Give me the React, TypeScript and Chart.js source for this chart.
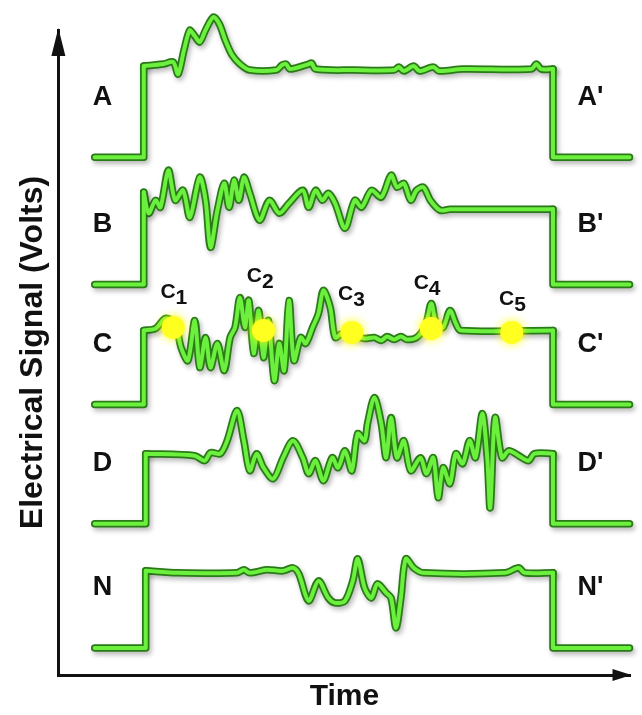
import React, { useEffect, useRef } from "react";
import { Chart, registerables } from "chart.js";

Chart.register(...registerables);

// ---- Data (time in ms, amplitude in mV above each channel's baseline) ----
const channelNames = ["A", "B", "C", "D", "N"];
const channelOffsets = [517, 390, 270, 151, 27];

const aTime = [37, 87, 87, 107, 117, 122, 128, 134, 139, 144, 150, 158, 164, 170, 177, 185, 195, 222, 228, 232, 236, 255, 258, 262, 302, 342, 347, 352, 362, 368, 382, 388, 412, 482, 487, 492, 504, 504, 582];
const aAmp = [0, 0, 91, 93, 95, 83, 107, 127, 121, 115, 127, 140, 133, 117, 102, 93, 87, 87, 92, 93, 88, 93, 94, 88, 87, 87, 90, 86, 91, 86, 90, 86, 88, 88, 93, 88, 88, 0, 0];

const bTime = [37, 87, 87, 92, 99, 104, 112, 119, 127, 134, 144, 150, 155, 162, 169, 174, 179, 184, 189, 195, 205, 215, 225, 235, 249, 255, 262, 269, 275, 282, 292, 302, 309, 319, 329, 339, 345, 352, 359, 365, 372, 379, 389, 399, 504, 504, 582];
const bAmp = [0, 0, 92, 71, 84, 77, 114, 84, 94, 67, 107, 84, 37, 74, 101, 77, 104, 84, 107, 91, 64, 84, 71, 81, 94, 77, 94, 84, 91, 81, 56, 84, 77, 94, 87, 109, 97, 101, 84, 94, 97, 84, 74, 75, 75, 0, 0];

const cTime = [37, 87, 87, 99, 109, 119, 125, 132, 139, 144, 150, 155, 162, 169, 175, 180, 185, 190, 194, 199, 204, 209, 214, 220, 225, 230, 235, 240, 247, 252, 259, 265, 270, 277, 282, 289, 299, 312, 322, 329, 335, 342, 349, 355, 365, 374, 380, 385, 392, 399, 405, 410, 504, 504, 582];
const cAmp = [0, 0, 74, 76, 86, 81, 57, 44, 84, 37, 67, 37, 61, 34, 67, 77, 107, 77, 104, 51, 94, 47, 84, 24, 61, 34, 104, 44, 67, 61, 77, 91, 114, 97, 67, 71, 69, 66, 67, 64, 68, 65, 68, 65, 67, 79, 101, 81, 77, 94, 81, 74, 74, 0, 0];

const dTime = [37, 89, 89, 139, 149, 155, 165, 172, 182, 189, 195, 202, 209, 219, 229, 239, 249, 255, 262, 270, 279, 285, 292, 299, 305, 312, 315, 322, 329, 334, 339, 345, 352, 359, 369, 375, 382, 387, 392, 399, 405, 412, 419, 425, 432, 437, 440, 445, 452, 459, 469, 479, 485, 504, 504, 582];
const dAmp = [0, 0, 70, 68, 63, 71, 70, 83, 113, 83, 53, 70, 56, 45, 66, 83, 66, 50, 63, 43, 66, 56, 73, 53, 90, 83, 100, 126, 100, 66, 106, 66, 83, 53, 66, 50, 66, 26, 56, 40, 70, 60, 83, 66, 110, 66, 16, 106, 66, 73, 68, 63, 70, 70, 0, 0];

const nTime = [37, 89, 89, 122, 182, 189, 195, 212, 229, 239, 245, 255, 265, 275, 282, 292, 300, 305, 312, 319, 325, 334, 339, 344, 349, 354, 362, 372, 455, 469, 475, 504, 504, 582];
const nAmp = [0, 0, 77, 75, 75, 78, 75, 78, 77, 80, 74, 47, 67, 50, 45, 47, 67, 89, 60, 50, 64, 55, 50, 20, 50, 89, 80, 75, 75, 80, 75, 75, 0, 0];

// Marked points on channel C
const cPointNames = ["1", "2", "3", "4", "5"];
const cPointTime = [117, 209, 299, 380, 462];
const cPointAmp = [77, 74, 72, 76, 72];
const cLabelTime = [104, 192, 285, 362, 449];
const cLabelAmp = [112, 128, 110, 121, 105];

// Channel label anchors
const labelLeftTime = 45;
const labelRightTime = 529;
const labelAmp = 60;

const FONT = "'Liberation Sans', Arial, Helvetica, sans-serif";
const OUTLINE = "#2a7a18";
const CORE = "#6cf03e";
const INK = "#111111";

const series = [
  { time: aTime, amp: aAmp },
  { time: bTime, amp: bAmp },
  { time: cTime, amp: cAmp },
  { time: dTime, amp: dAmp },
  { time: nTime, amp: nAmp },
];

function buildDatasets() {
  const ds: any[] = [];
  series.forEach((s, i) => {
    const pts = s.time.map((t, k) => ({ x: t, y: channelOffsets[i] + s.amp[k] }));
    const n = pts.length;
    // sharp step edges (rise and fall) and the smooth signal between them
    const steps = [pts[0], pts[1], pts[2], { x: pts[2].x + 1, y: null }, pts[n - 3], pts[n - 2], pts[n - 1]];
    const wave = pts.slice(2, n - 2);
    const parts = [
      { data: steps, tension: 0 },
      { data: wave, tension: 0.3 },
    ];
    parts.forEach((p, j) => {
      const common = {
        data: p.data,
        tension: p.tension,
        pointRadius: 0,
        fill: false,
        clip: false,
        spanGaps: false,
        borderJoinStyle: "round",
        borderCapStyle: "round",
      };
      ds.push({ ...common, label: channelNames[i] + "-outline-" + j, kind: "outline", borderColor: OUTLINE, borderWidth: 7.5, order: 3 });
      ds.push({ ...common, label: channelNames[i] + "-" + j, kind: "core", borderColor: CORE, borderWidth: 4, order: 2 });
    });
  });
  ds.push({
    label: "C points",
    kind: "dot",
    data: cPointTime.map((t, k) => ({ x: t, y: channelOffsets[2] + cPointAmp[k] })),
    showLine: false,
    pointRadius: 11.5,
    pointHoverRadius: 11.5,
    pointBackgroundColor: "#ffff20",
    pointBorderWidth: 0,
    clip: false,
    order: 0,
  });
  return ds;
}

const effectsPlugin = {
  id: "effects",
  beforeDatasetDraw(chart: any, args: any) {
    const ds = chart.data.datasets[args.index];
    const ctx = chart.ctx;
    ctx.save();
    if (ds.kind === "outline") {
      ctx.shadowColor = "rgba(0,0,0,0.28)";
      ctx.shadowBlur = 5;
      ctx.shadowOffsetX = 2;
      ctx.shadowOffsetY = 3;
    } else if (ds.kind === "dot") {
      ctx.shadowColor = "rgba(255,255,0,0.95)";
      ctx.shadowBlur = 10;
    }
  },
  afterDatasetDraw(chart: any) {
    chart.ctx.restore();
  },
};

const annotationsPlugin = {
  id: "annotations",
  afterDraw(chart: any) {
    const ctx = chart.ctx;
    const xs = chart.scales.x;
    const ys = chart.scales.y;
    const area = chart.chartArea;
    ctx.save();
    ctx.fillStyle = INK;
    // axis arrowheads
    ctx.beginPath();
    ctx.moveTo(area.left, area.top - 2);
    ctx.lineTo(area.left - 7, area.top + 26);
    ctx.lineTo(area.left + 7, area.top + 26);
    ctx.closePath();
    ctx.fill();
    ctx.beginPath();
    ctx.moveTo(area.right + 1, area.bottom);
    ctx.lineTo(area.right - 18, area.bottom - 6);
    ctx.lineTo(area.right - 18, area.bottom + 6);
    ctx.closePath();
    ctx.fill();

    // channel labels
    ctx.font = `bold 27px ${FONT}`;
    ctx.textBaseline = "middle";
    channelNames.forEach((name, i) => {
      const y = ys.getPixelForValue(channelOffsets[i] + labelAmp);
      ctx.textAlign = "center";
      ctx.fillText(name, xs.getPixelForValue(labelLeftTime), y);
      ctx.textAlign = "left";
      ctx.fillText(name + "'", xs.getPixelForValue(labelRightTime), y);
    });

    // C point labels
    ctx.font = `bold 21px ${FONT}`;
    ctx.textAlign = "left";
    cPointNames.forEach((n, k) => {
      const x = xs.getPixelForValue(cLabelTime[k]);
      const y = ys.getPixelForValue(channelOffsets[2] + cLabelAmp[k]);
      ctx.fillText("C", x, y);
      const w = ctx.measureText("C").width;
      ctx.fillText(n, x + w, y + 6);
    });
    ctx.restore();
  },
};

export default function App() {
  const ref = useRef<HTMLCanvasElement | null>(null);

  useEffect(() => {
    if (!ref.current) return;
    const titleFont = { family: FONT, size: 32, weight: "bold" as const };
    const chart = new Chart(ref.current, {
      type: "line",
      data: { datasets: buildDatasets() },
      options: {
        responsive: false,
        animation: false,
        events: [],
        layout: { padding: { left: 0, right: 1, top: 30, bottom: 0 } },
        plugins: { legend: { display: false }, tooltip: { enabled: false } },
        scales: {
          x: {
            type: "linear",
            min: 0,
            max: 583,
            grid: { display: false, drawTicks: false },
            ticks: { display: false },
            border: { display: true, color: INK, width: 3 },
            title: { display: true, text: "Time", color: INK, font: { ...titleFont, size: 30 }, padding: { top: 4, bottom: 0 } },
          },
          y: {
            type: "linear",
            min: 0,
            max: 644,
            grid: { display: false, drawTicks: false },
            ticks: { display: false },
            border: { display: true, color: INK, width: 3 },
            title: { display: true, text: "Electrical Signal (Volts)", color: INK, font: titleFont, padding: { top: 14, bottom: 6 } },
          },
        },
      },
      plugins: [effectsPlugin, annotationsPlugin],
    });
    return () => chart.destroy();
  }, []);

  return (
    <div style={{ position: "fixed", left: 0, top: 0, width: 642, height: 715, background: "#ffffff" }}>
      <canvas ref={ref} width={642} height={715} style={{ display: "block" }} />
    </div>
  );
}
